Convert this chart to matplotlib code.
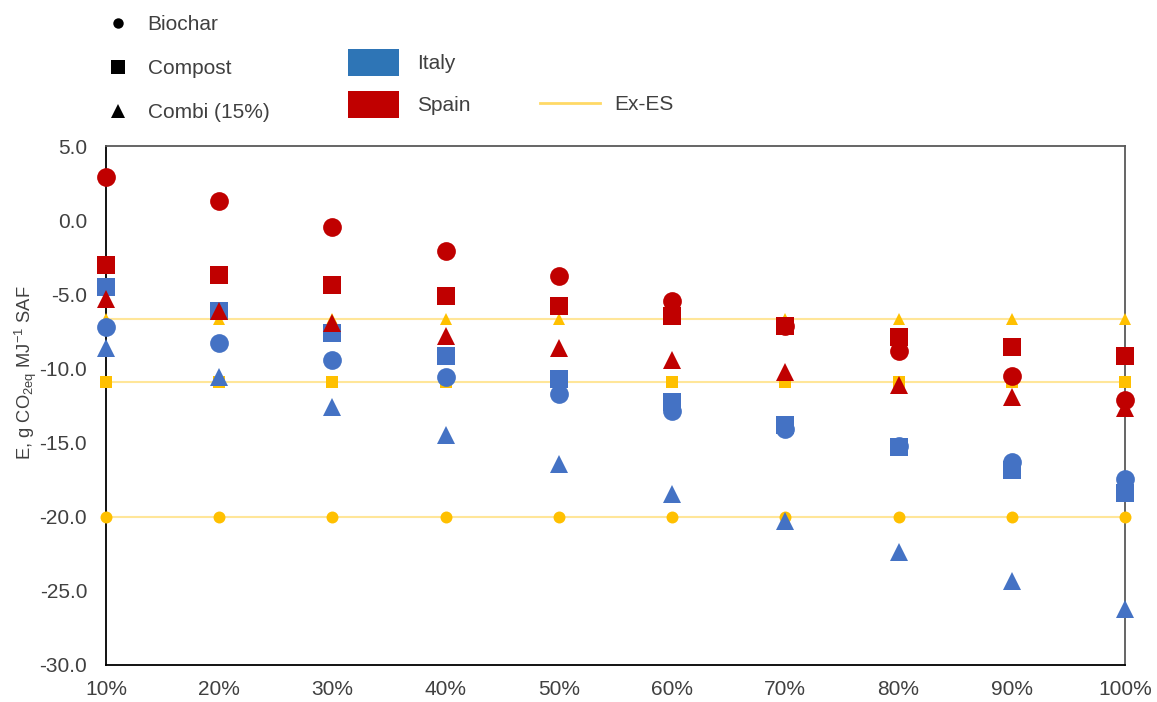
import matplotlib
matplotlib.use("Agg")
import matplotlib.pyplot as plt
from matplotlib.lines import Line2D
from matplotlib.patches import Patch

# Share of feedstock (x axis)
share = [10, 20, 30, 40, 50, 60, 70, 80, 90, 100]
share_labels = ["10%", "20%", "30%", "40%", "50%", "60%", "70%", "80%", "90%", "100%"]

# Emissions, g CO2eq per MJ SAF
italy_biochar = [-7.2, -8.3, -9.4, -10.6, -11.75, -12.85, -14.1, -15.2, -16.3, -17.45]
italy_compost = [-4.5, -6.1, -7.6, -9.15, -10.7, -12.25, -13.8, -15.3, -16.85, -18.4]
italy_combi = [-8.6, -10.6, -12.6, -14.5, -16.45, -18.45, -20.3, -22.35, -24.35, -26.2]

spain_biochar = [2.9, 1.3, -0.45, -2.1, -3.8, -5.45, -7.15, -8.85, -10.5, -12.15]
spain_compost = [-3.0, -3.7, -4.4, -5.1, -5.8, -6.45, -7.15, -7.85, -8.55, -9.15]
spain_combi = [-5.3, -6.1, -6.95, -7.8, -8.6, -9.4, -10.25, -11.1, -11.9, -12.7]

exes_biochar = [-20.0, -20.0, -20.0, -20.0, -20.0, -20.0, -20.0, -20.0, -20.0, -20.0]
exes_compost = [-10.9, -10.9, -10.9, -10.9, -10.9, -10.9, -10.9, -10.9, -10.9, -10.9]
exes_combi = [-6.7, -6.7, -6.7, -6.7, -6.7, -6.7, -6.7, -6.7, -6.7, -6.7]

y_ticks = [5.0, 0.0, -5.0, -10.0, -15.0, -20.0, -25.0, -30.0]

BLUE = "#4472C4"
RED = "#C00000"
YELLOW = "#FFC000"
EXES_LINE = "#FFE699"
TEXT = "#404040"

plt.rcParams["font.family"] = ["Liberation Sans", "DejaVu Sans"]
plt.rcParams["mathtext.fontset"] = "custom"
plt.rcParams["mathtext.rm"] = "Liberation Sans"
plt.rcParams["mathtext.it"] = "Liberation Sans:italic"
plt.rcParams["mathtext.bf"] = "Liberation Sans:bold"

W, H = 1157, 702
fig = plt.figure(figsize=(W / 100, H / 100), dpi=100)
ax = fig.add_axes([106 / W, 1 - 665 / H, 1019 / W, 519 / H])

# Ex-ES reference levels: pale line plus small markers
for vals, mk, ms in [(exes_biochar, "o", 8.6), (exes_compost, "s", 8.8), (exes_combi, "^", 8.8)]:
    ax.plot(share, vals, color=EXES_LINE, lw=1.5, zorder=2.6, clip_on=False)
    ax.plot(share, vals, linestyle="none", marker=mk, ms=ms, color=YELLOW,
            markeredgewidth=0, zorder=2.7, clip_on=False)

series = [
    (italy_biochar, "o", 13.5, BLUE),
    (italy_compost, "s", 13.5, BLUE),
    (italy_combi, "^", 12.6, BLUE),
    (spain_biochar, "o", 13.5, RED),
    (spain_compost, "s", 13.5, RED),
    (spain_combi, "^", 12.6, RED),
]
for i, (vals, mk, ms, col) in enumerate(series):
    ax.plot(share, vals, linestyle="none", marker=mk, ms=ms, color=col,
            markeredgewidth=0, zorder=3 + i * 0.1, clip_on=False)

ax.set_xlim(10, 100)
ax.set_ylim(-30, 5)
ax.set_xticks(share)
ax.set_xticklabels(share_labels)
ax.set_yticks(y_ticks)
ax.set_yticklabels([f"{v:.1f}" for v in y_ticks])
ax.tick_params(axis="x", length=0, labelsize=15, labelcolor=TEXT, pad=11)
ax.tick_params(axis="y", length=0, labelsize=15, labelcolor=TEXT, pad=13.5)

for side in ["left", "bottom"]:
    ax.spines[side].set_color("#000000")
    ax.spines[side].set_linewidth(1.3)
for side in ["top", "right"]:
    ax.spines[side].set_color("#595959")
    ax.spines[side].set_linewidth(1.3)
for sp in ax.spines.values():
    sp.set_zorder(2.5)

ax.set_ylabel(r"E, g CO$_{\mathrm{2eq}}$ MJ$^{\mathrm{-1}}$ SAF", fontsize=13.2,
              color=TEXT, va="center")
ax.yaxis.set_label_coords((26 - 106) / 1019, (665 - 372.7) / 519)

# Marker-shape legend (pathway)
shape_handles = [
    Line2D([], [], linestyle="none", marker="o", color="black", ms=7.5, markeredgewidth=0),
    Line2D([], [], linestyle="none", marker="s", color="black", ms=9.5, markeredgewidth=0),
    Line2D([], [], linestyle="none", marker="^", color="black", ms=9.5, markeredgewidth=0),
]
fig.legend(shape_handles, ["Biochar", "Compost", "Combi (15%)"],
           loc="center left", bbox_to_anchor=(108 / W, 1 - 68.9 / H),
           frameon=False, fontsize=15, labelcolor=TEXT, borderpad=0, borderaxespad=0,
           handlelength=1.0, handletextpad=0.9, labelspacing=1.2)

# Country legend
country_handles = [Patch(facecolor="#2E75B6", edgecolor="none"),
                   Patch(facecolor=RED, edgecolor="none")]
fig.legend(country_handles, ["Italy", "Spain"],
           loc="center left", bbox_to_anchor=(347.5 / W, 1 - 83.5 / H),
           frameon=False, fontsize=15, labelcolor=TEXT, borderpad=0, borderaxespad=0,
           handlelength=2.47, handleheight=1.617, handletextpad=0.86, labelspacing=0.71)

# Reference legend
fig.legend([Line2D([], [], color="#FFD966", lw=2)], ["Ex-ES"],
           loc="center left", bbox_to_anchor=(539.5 / W, 1 - 105 / H),
           frameon=False, fontsize=15, labelcolor=TEXT, borderpad=0, borderaxespad=0,
           handlelength=2.9, handletextpad=0.67)

fig.savefig("out.png", dpi=100)
